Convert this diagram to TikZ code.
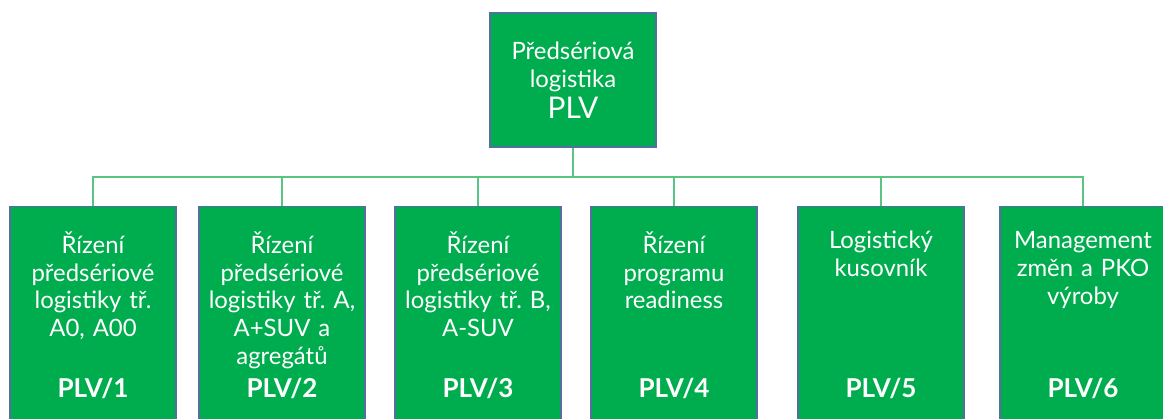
\documentclass[tikz,border=0pt]{standalone}
\usepackage{fontspec}
\setmainfont{Lato}
\frenchspacing
\definecolor{plvgreen}{RGB}{0,173,78}
\definecolor{plvedge}{RGB}{84,110,160}
\definecolor{plvline}{RGB}{90,196,130}

\begin{document}
\begin{tikzpicture}[font=\fontsize{13.6}{15.9}\selectfont,
  box/.style={draw=plvedge, fill=plvgreen, line width=0.8pt, minimum width=3.32cm, text=white},
  unit/.style={box, anchor=north, minimum height=4.8cm},
  desc/.style={anchor=north, inner sep=0pt, text width=3.3cm, align=center, text=white},
  code/.style={font=\fontsize{14.8}{16}\selectfont\bfseries, text=white},
  link/.style={draw=plvline, line width=0.6pt}]
  \useasboundingbox (0,0) rectangle (23.26,8.36);
  \clip (0,0) rectangle (23.26,8.36);
  \node[box, minimum height=2.68cm, align=center] (plv) at (11.46,6.76)
    {Předsériová\\logistika\\[2pt]{\fontsize{17}{17}\selectfont PLV}};
  \coordinate (bus) at (11.46,4.82);
  \node[unit] (u1) at (1.86,4.24) {};
  \node[unit] (u2) at (5.64,4.24) {};
  \node[unit] (u3) at (9.56,4.24) {};
  \node[unit] (u4) at (13.48,4.24) {};
  \node[unit] (u5) at (17.62,4.24) {};
  \node[unit] (u6) at (21.66,4.24) {};
  \node[desc] (d1) at ([yshift=-0.5cm]u1.north) {Řízení\\předsériové\\logistiky tř.\\A0, A00};
  \node[desc] (d2) at ([yshift=-0.5cm]u2.north) {Řízení\\předsériové\\logistiky tř. A,\\A+SUV a\\agregátů};
  \node[desc] (d3) at ([yshift=-0.5cm]u3.north) {Řízení\\předsériové\\logistiky tř. B,\\A-SUV};
  \node[desc] (d4) at ([yshift=-0.5cm]u4.north) {Řízení\\programu\\readiness};
  \node[desc] (d5) at ([yshift=-0.5cm]u5.north) {Logistický\\kusovník};
  \node[desc] (d6) at ([yshift=-0.5cm]u6.north) {Management\\změn a PKO\\výroby};
  \node[code] (c1) at (u1.north |- 0,0.6) {PLV/1};
  \node[code] (c2) at (u2.north |- 0,0.6) {PLV/2};
  \node[code] (c3) at (u3.north |- 0,0.6) {PLV/3};
  \node[code] (c4) at (u4.north |- 0,0.6) {PLV/4};
  \node[code] (c5) at (u5.north |- 0,0.6) {PLV/5};
  \node[code] (c6) at (u6.north |- 0,0.6) {PLV/6};
  \draw[link] (plv.south) -- (bus);
  \draw[link] (bus) -| (u1.north);
  \draw[link] (bus) -| (u2.north);
  \draw[link] (bus) -| (u3.north);
  \draw[link] (bus) -| (u4.north);
  \draw[link] (bus) -| (u5.north);
  \draw[link] (bus) -| (u6.north);
\end{tikzpicture}
\end{document}
